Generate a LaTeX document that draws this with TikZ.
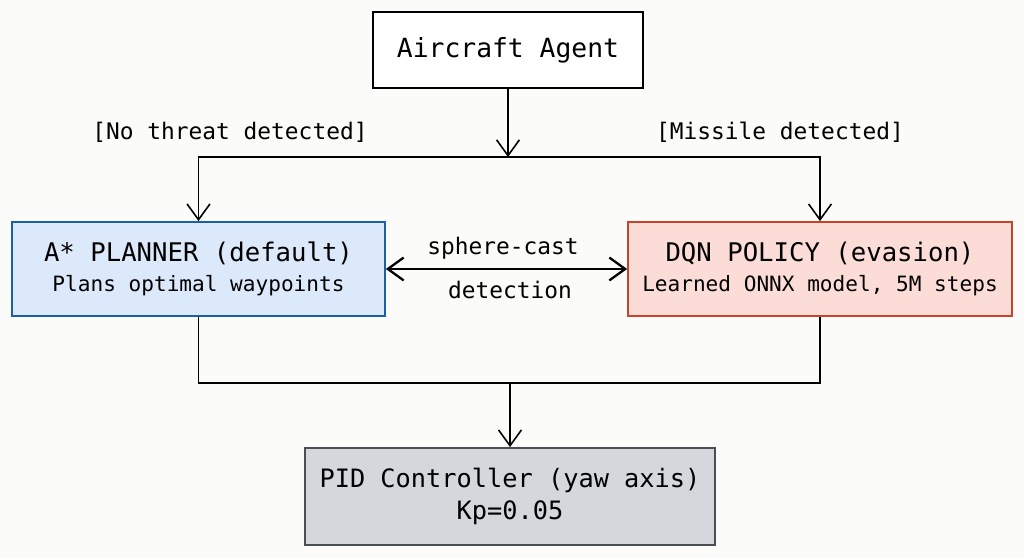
\documentclass[tikz,border=0pt]{standalone}
\usepackage{fontspec}
\setmonofont{DejaVu Sans Mono}
\usetikzlibrary{arrows.meta}
\definecolor{paper}{HTML}{FBFBF9}
\definecolor{plannerfill}{HTML}{DCE9FA}
\definecolor{plannerline}{HTML}{1D5FA6}
\definecolor{policyfill}{HTML}{FCDCD6}
\definecolor{policyline}{HTML}{C9432B}
\definecolor{pidfill}{HTML}{D5D7DC}
\definecolor{pidline}{HTML}{4A4F57}
\tikzset{
    box/.style={draw, line width=1pt, inner sep=0pt, align=center, font=\ttfamily},
    arr/.style={line width=0.9pt, -{Straight Barb[length=9pt, width=13pt]}},
    wire/.style={line width=0.9pt},
    guard/.style={font=\ttfamily\fontsize{13}{15}\selectfont}
}
\begin{document}
\begin{tikzpicture}
        % page and background
        \useasboundingbox[fill=paper] (0,0) rectangle (20.48,11.18);
        % the agent box
        \node[box, fill=white, minimum width=5.4cm, minimum height=1.52cm,
              font=\ttfamily\fontsize{15}{18}\selectfont] (agent) at (10.16,10.18) {Aircraft Agent};
        % the two planner boxes
        \node[box, draw=plannerline, fill=plannerfill, minimum width=7.46cm, minimum height=1.88cm] (astar) at (3.97,5.80)
            {{\fontsize{14.6}{18}\selectfont A* PLANNER (default)}\\[5pt]{\fontsize{12}{15}\selectfont Plans optimal waypoints}};
        \node[box, draw=policyline, fill=policyfill, minimum width=7.68cm, minimum height=1.88cm] (dqn) at (16.40,5.80)
            {{\fontsize{14.6}{18}\selectfont DQN POLICY (evasion)}\\[5pt]{\fontsize{12}{15}\selectfont Learned ONNX model, 5M steps}};
        % the controller box
        \node[box, draw=pidline, fill=pidfill, minimum width=8.2cm, minimum height=1.94cm] (pid) at (10.20,1.25)
            {{\fontsize{14.4}{18}\selectfont PID Controller (yaw axis)}\\[4pt]{\fontsize{14.4}{18}\selectfont Kp=0.05}};
        % branch and merge points
        \coordinate (split) at (10.16,8.04);
        \coordinate (merge) at (10.20,3.52);
        % guard labels
        \node[guard] (nothreat) at (4.60,8.54) {[No threat detected]};
        \node[guard] (missile) at (15.60,8.54) {[Missile detected]};
        % agent to planners
        \draw[arr] (agent) -- (split);
        \draw[arr] (split) -| (astar);
        \draw[arr] (split) -| (dqn);
        % planners to controller
        \draw[wire] (astar) |- (merge);
        \draw[wire] (dqn) |- (merge);
        \draw[arr] (merge) -- (pid);
        % detection link between the planners
        \draw[line width=1.3pt, {Straight Barb[length=9pt, width=13pt]}-{Straight Barb[length=9pt, width=13pt]}] (astar) -- (dqn);
        \node[guard] (cast) at (10.06,6.22) {sphere-cast};
        \node[guard] (detect) at (10.20,5.38) {detection};
    \end{tikzpicture}
\end{document}
